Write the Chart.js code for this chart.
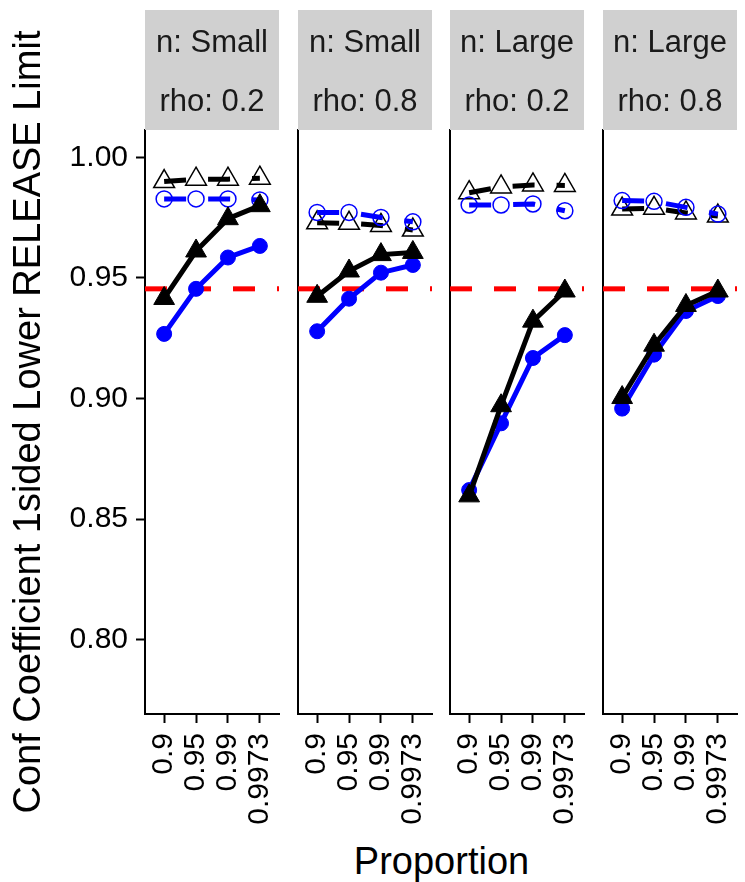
<!DOCTYPE html>
<html>
<head>
<meta charset="utf-8">
<script src="https://cdn.jsdelivr.net/npm/chart.js@4.4.1/dist/chart.umd.min.js"></script>
<style>
  body { margin: 0; background: #fff; }
  #wrap { position: relative; width: 745px; height: 882px; overflow: hidden; background: #fff; }
  #wrap canvas { position: absolute; top: 0; }
  #xTitle {
    position: absolute; left: 145px; width: 593px; top: 840px;
    text-align: center; line-height: 44px; color: #000;
    font: 38px "Liberation Sans", Arial, sans-serif;
  }
</style>
</head>
<body>
<div id="wrap">
  <div id="xTitle">Proportion</div>
</div>
<script>
const proportions = ["0.9", "0.95", "0.99", "0.9973"];
const nLevels = ["Small", "Small", "Large", "Large"];
const rhoLevels = ["0.2", "0.8", "0.2", "0.8"];
const yTicks = [0.80, 0.85, 0.90, 0.95, 1.00];
const refLine = 0.9455;

// filled triangles, solid black line
const blackSolid = [
    [0.9415, 0.9612, 0.9746, 0.9800],
    [0.9424, 0.9529, 0.9597, 0.9606],
    [0.8596, 0.8970, 0.9321, 0.9446],
    [0.9004, 0.9221, 0.9386, 0.9446],
];
// filled circles, solid blue line
const blueSolid = [
    [0.9268, 0.9455, 0.9585, 0.9633],
    [0.9279, 0.9414, 0.9522, 0.9554],
    [0.8620, 0.8897, 0.9168, 0.9263],
    [0.8958, 0.9182, 0.9363, 0.9425],
];
// open triangles, dashed black line
const blackDashed = [
    [0.9900, 0.9910, 0.9910, 0.9914],
    [0.9729, 0.9727, 0.9718, 0.9699],
    [0.9854, 0.9878, 0.9886, 0.9884],
    [0.9786, 0.9789, 0.9770, 0.9757],
];
// open circles, dashed blue line
const blueDashed = [
    [0.9828, 0.9828, 0.9828, 0.9824],
    [0.9772, 0.9772, 0.9751, 0.9733],
    [0.9803, 0.9803, 0.9807, 0.9779],
    [0.9821, 0.9818, 0.9793, 0.9765],
];

const FONT = '"Liberation Sans", Arial, sans-serif';
Chart.defaults.font.family = FONT;
Chart.defaults.color = "#000";

const panelLeft = [145, 298, 450, 603];
const panelWidth = 134;
const wrap = document.getElementById("wrap");

const stripPlugin = {
    id: "strip",
    afterDraw(chart, args, opts) {
        const { ctx, chartArea } = chart;
        ctx.save();
        ctx.fillStyle = "#d0d0d0";
        ctx.fillRect(chartArea.left, 10, chartArea.right - chartArea.left, 120);
        ctx.fillStyle = "#1a1a1a";
        ctx.font = "31px " + FONT;
        ctx.textAlign = "center";
        ctx.textBaseline = "middle";
        const cx = (chartArea.left + chartArea.right) / 2;
        ctx.fillText("n: " + nLevels[opts.index], cx, 43);
        ctx.fillText("rho: " + rhoLevels[opts.index], cx, 102);
        ctx.restore();
    },
};

const refPlugin = {
    id: "refLine",
    beforeDatasetsDraw(chart) {
        const { ctx, chartArea } = chart;
        const y = chart.scales.y.getPixelForValue(refLine);
        ctx.save();
        ctx.strokeStyle = "#ff0000";
        ctx.lineWidth = 5;
        ctx.setLineDash([22, 22]);
        ctx.beginPath();
        ctx.moveTo(chartArea.left, y);
        ctx.lineTo(chartArea.right, y);
        ctx.stroke();
        ctx.restore();
    },
};

function points(values) {
    return values.map((v, i) => ({ x: i, y: v }));
}

function makePanel(i) {
    const first = i === 0;
    const axisW = first ? 145 : 10;
    const canvas = document.createElement("canvas");
    canvas.width = axisW + panelWidth + 4;
    canvas.height = 882;
    canvas.style.left = (panelLeft[i] - axisW) + "px";
    wrap.appendChild(canvas);

    new Chart(canvas, {
        type: "line",
        data: {
            datasets: [
                {
                    data: points(blackSolid[i]),
                    borderColor: "#000",
                    borderWidth: 5,
                    pointStyle: "triangle",
                    pointRadius: 12,
                    pointBackgroundColor: "#000",
                    pointBorderColor: "#000",
                    pointBorderWidth: 1,
                    order: 0,
                },
                {
                    data: points(blueSolid[i]),
                    borderColor: "#0000ff",
                    borderWidth: 5,
                    pointStyle: "circle",
                    pointRadius: 7.5,
                    pointBackgroundColor: "#0000ff",
                    pointBorderColor: "#0000ff",
                    pointBorderWidth: 1,
                    order: 1,
                },
                {
                    data: points(blackDashed[i]),
                    borderColor: "#000",
                    borderWidth: 5,
                    borderDash: [22, 22],
                    pointStyle: "triangle",
                    pointRadius: 12,
                    pointBackgroundColor: "rgba(0,0,0,0)",
                    pointBorderColor: "#000",
                    pointBorderWidth: 1.5,
                    order: 3,
                },
                {
                    data: points(blueDashed[i]),
                    borderColor: "#0000ff",
                    borderWidth: 5,
                    borderDash: [22, 22],
                    pointStyle: "circle",
                    pointRadius: 8,
                    pointBackgroundColor: "rgba(0,0,0,0)",
                    pointBorderColor: "#0000ff",
                    pointBorderWidth: 1.5,
                    order: 2,
                },
            ],
        },
        options: {
            responsive: false,
            animation: false,
            tension: 0,
            clip: false,
            layout: { autoPadding: false, padding: { top: 130, right: 4, bottom: 0, left: 0 } },
            plugins: {
                legend: { display: false },
                tooltip: { enabled: false },
                strip: { index: i },
            },
            scales: {
                x: {
                    type: "linear",
                    min: -0.6,
                    max: 3.6,
                    afterBuildTicks: (scale) => {
                        scale.ticks = proportions.map((p, k) => ({ value: k }));
                    },
                    afterFit: (scale) => {
                        scale.height = 168;
                        scale.paddingLeft = 0;
                        scale.paddingRight = 0;
                    },
                    ticks: {
                        autoSkip: false,
                        minRotation: 90,
                        maxRotation: 90,
                        padding: 10,
                        font: { size: 30 },
                        color: "#000",
                        callback: (value) => proportions[value],
                    },
                    grid: {
                        drawOnChartArea: false,
                        drawTicks: true,
                        tickLength: 9,
                        tickWidth: 2,
                        tickColor: "#000",
                    },
                    border: { display: true, color: "#000", width: 2 },
                },
                y: {
                    type: "linear",
                    min: 0.7691,
                    max: 1.0114,
                    afterBuildTicks: (scale) => {
                        scale.ticks = yTicks.map((v) => ({ value: v }));
                    },
                    afterFit: (scale) => {
                        scale.width = axisW;
                        scale.paddingTop = 0;
                        scale.paddingBottom = 0;
                    },
                    ticks: {
                        display: first,
                        padding: 8,
                        font: { size: 30 },
                        color: "#000",
                        callback: (value) => value.toFixed(2),
                    },
                    grid: {
                        drawOnChartArea: false,
                        drawTicks: first,
                        tickLength: 9,
                        tickWidth: 2,
                        tickColor: "#000",
                    },
                    border: { display: true, color: "#000", width: 2 },
                    title: {
                        display: first,
                        text: "Conf Coefficient 1sided Lower RELEASE Limit",
                        font: { size: 38 },
                        color: "#000",
                        padding: { top: 7, bottom: 0 },
                    },
                },
            },
        },
        plugins: [stripPlugin, refPlugin],
    });
}

for (let i = 0; i < 4; i++) {
    makePanel(i);
}
</script>
</body>
</html>
